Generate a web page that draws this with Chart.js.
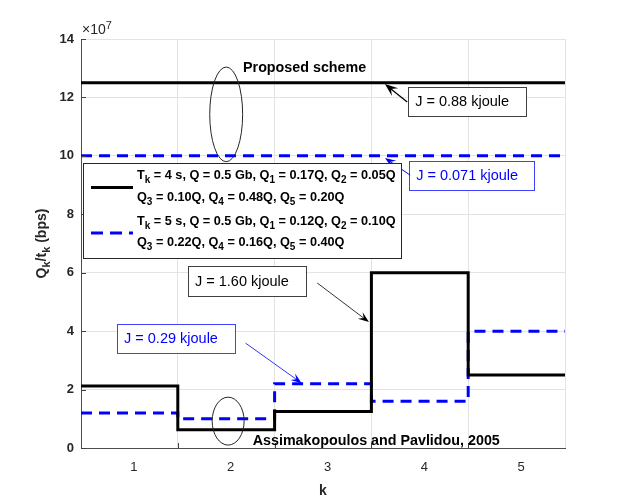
<!DOCTYPE html>
<html>
<head>
<meta charset="utf-8">
<script src="https://cdn.jsdelivr.net/npm/chart.js@4/dist/chart.umd.min.js"></script>
<style>
  html, body { margin: 0; padding: 0; background: #fff; }
  canvas { display: block; }
</style>
</head>
<body>
<canvas id="c" width="623" height="504"></canvas>
<script>
// ---------------- data (rates in units of 1e7 bps) ----------------
const K_LABELS = ['1', '2', '3', '4', '5'];
const STEP_EDGES = [0.5, 1.5, 2.5, 3.5, 4.5, 5.5];
const RATE_T4 = [2.125, 0.625, 1.25, 6.0, 2.5];   // Tk = 4 s, Assimakopoulos
const RATE_T5 = [1.2, 1.0, 2.2, 1.6, 4.0];        // Tk = 5 s, Assimakopoulos
const PROPOSED_T4 = [12.5, 12.5];                 // proposed scheme, Tk = 4 s
const PROPOSED_T5 = [10, 10];                     // proposed scheme, Tk = 5 s
const PROPOSED_EDGES = [0.5, 5.5];
const Y_MIN = 0, Y_MAX = 14, Y_STEP = 2;
const Y_EXPONENT = '×10^{7}';
const X_TITLE = 'k';
const Y_TITLE = 'Q_{k}/t_{k} (bps)';
const LEGEND_T4 = ['T_{k} = 4 s, Q = 0.5 Gb, Q_{1} = 0.17Q, Q_{2} = 0.05Q', 'Q_{3} = 0.10Q, Q_{4} = 0.48Q, Q_{5} = 0.20Q'];
const LEGEND_T5 = ['T_{k} = 5 s, Q = 0.5 Gb, Q_{1} = 0.12Q, Q_{2} = 0.10Q', 'Q_{3} = 0.22Q, Q_{4} = 0.16Q, Q_{5} = 0.40Q'];
const LABEL_PROPOSED = 'Proposed scheme';
const LABEL_REF = 'Assimakopoulos and Pavlidou, 2005';
const NOTE_TEXTS = ['J = 0.88 kjoule', 'J = 0.071 kjoule', 'J = 1.60 kjoule', 'J = 0.29 kjoule'];

const FAMILY = '"Liberation Sans", Arial, Helvetica, sans-serif';
const BLUE = '#0000ff';

function steps(vals) {
  return STEP_EDGES.map((x, i) => ({ x: x, y: vals[Math.min(i, vals.length - 1)] }));
}
function flat(vals) {
  return PROPOSED_EDGES.map((x, i) => ({ x: x, y: vals[i] }));
}

// ---------------- rich text helpers ----------------
function parseRich(s) {
  const out = []; const re = /([_^])\{([^}]*)\}|([^_^]+)/g; let m;
  while ((m = re.exec(s))) {
    if (m[3]) out.push({ t: m[3], m: 0 });
    else out.push({ t: m[2], m: m[1] === '_' ? 1 : 2 });
  }
  return out;
}
function richWidth(ctx, s, size, weight) {
  const small = Math.round(size * 0.75);
  let w = 0;
  for (const g of parseRich(s)) {
    ctx.font = `${weight} ${g.m ? small : size}px ${FAMILY}`;
    w += ctx.measureText(g.t).width;
  }
  return w;
}
function drawRich(ctx, s, x, y, size, weight, align) {
  const small = Math.round(size * 0.75);
  const w = richWidth(ctx, s, size, weight);
  let cx = align === 'center' ? x - w / 2 : x;
  ctx.textBaseline = 'middle';
  ctx.textAlign = 'left';
  for (const g of parseRich(s)) {
    ctx.font = `${weight} ${g.m ? small : size}px ${FAMILY}`;
    const dy = g.m === 1 ? size * 0.38 : g.m === 2 ? -size * 0.3 : 0;
    ctx.fillText(g.t, cx, y + dy);
    cx += ctx.measureText(g.t).width;
  }
}
function arrow(ctx, x0, y0, x1, y1, color, lw, L, W) {
  ctx.save();
  ctx.strokeStyle = color; ctx.fillStyle = color; ctx.lineWidth = lw;
  const a = Math.atan2(y1 - y0, x1 - x0);
  ctx.beginPath();
  ctx.moveTo(x0, y0);
  ctx.lineTo(x1 - Math.cos(a) * L * 0.6, y1 - Math.sin(a) * L * 0.6);
  ctx.stroke();
  ctx.translate(x1, y1); ctx.rotate(a);
  ctx.beginPath();
  ctx.moveTo(0, 0);
  ctx.lineTo(-L, -W / 2);
  ctx.lineTo(-L * 0.6, 0);
  ctx.lineTo(-L, W / 2);
  ctx.closePath();
  ctx.fill();
  ctx.restore();
}

// ---------------- annotation plugin ----------------
const annotations = {
  id: 'annotations',
  afterDatasetsDraw(chart) {
    const ctx = chart.ctx;
    const ca = chart.chartArea;
    const X = v => chart.scales.xs.getPixelForValue(v);
    const Y = v => chart.scales.y.getPixelForValue(v);
    ctx.save();

    // inward tick marks
    ctx.strokeStyle = '#404040'; ctx.lineWidth = 1;
    ctx.beginPath();
    for (let v = Y_MIN; v <= Y_MAX; v += Y_STEP) {
      const y = Math.round(Y(v)) + 0.5;
      ctx.moveTo(ca.left, y); ctx.lineTo(ca.left + 5, y);
    }
    for (let i = 1; i < STEP_EDGES.length - 1; i++) {
      const x = Math.round(X(STEP_EDGES[i])) + 0.5;
      ctx.moveTo(x, ca.bottom); ctx.lineTo(x, ca.bottom - 5);
    }
    ctx.stroke();

    // ellipses
    ctx.strokeStyle = '#262626'; ctx.lineWidth = 1;
    const ell = (cx, cy, rx, ry) => {
      const px = X(cx), py = Y(cy);
      const prx = X(cx + rx) - px, pry = py - Y(cy + ry);
      ctx.beginPath(); ctx.ellipse(px, py, prx, pry, 0, 0, Math.PI * 2); ctx.stroke();
    };
    ell(2.0, 11.42, 0.17, 1.62);
    ell(2.02, 0.92, 0.165, 0.82);

    // bold labels
    ctx.fillStyle = '#000';
    drawRich(ctx, LABEL_PROPOSED, X(2.81), Y(13.0), 14.3, 'bold', 'center');
    drawRich(ctx, LABEL_REF, X(3.55), Y(0.24), 14.3, 'bold', 'center');

    // note boxes with arrows
    const notes = [
      { t: NOTE_TEXTS[0], c: '#000', b: '#404040', x0: 3.88, y0: 12.36, x1: 5.10, y1: 11.36, tail: [3.87, 11.84], head: [3.64, 12.46], lw: 1.3, L: 13, W: 10 },
      { t: NOTE_TEXTS[1], c: BLUE, b: '#4040ff', x0: 3.89, y0: 9.82, x1: 5.18, y1: 8.83, tail: [3.90, 9.34], head: [3.64, 9.93], lw: 1.0, L: 11, W: 8 },
      { t: NOTE_TEXTS[2], c: '#000', b: '#404040', x0: 1.605, y0: 6.23, x1: 2.82, y1: 5.20, tail: [2.94, 5.65], head: [3.475, 4.31], lw: 0.8, L: 11, W: 8 },
      { t: NOTE_TEXTS[3], c: BLUE, b: '#4040ff', x0: 0.872, y0: 4.24, x1: 2.09, y1: 3.25, tail: [2.20, 3.59], head: [2.78, 2.22], lw: 0.8, L: 11, W: 8 },
    ];
    for (const n of notes) {
      const bx = X(n.x0), by = Y(n.y0), bw = X(n.x1) - bx, bh = Y(n.y1) - by;
      ctx.fillStyle = '#fff';
      ctx.fillRect(bx, by, bw, bh);
      ctx.strokeStyle = n.b; ctx.lineWidth = 1;
      ctx.strokeRect(Math.round(bx) + 0.5, Math.round(by) + 0.5, Math.round(bw), Math.round(bh));
      ctx.fillStyle = n.c;
      drawRich(ctx, n.t, bx + 7, by + bh / 2 + 0.5, 14.5, 'normal', 'left');
      arrow(ctx, X(n.tail[0]), Y(n.tail[1]), X(n.head[0]), Y(n.head[1]), n.c, n.lw, n.L, n.W);
    }

    // legend
    const lx = Math.round(X(0.52)), ly = Math.round(Y(9.76)), lw = 318, lh = 95;
    ctx.fillStyle = '#fff'; ctx.fillRect(lx, ly, lw, lh);
    ctx.strokeStyle = '#262626'; ctx.lineWidth = 1;
    ctx.strokeRect(lx + 0.5, ly + 0.5, lw, lh);
    ctx.lineWidth = 3;
    ctx.strokeStyle = '#000'; ctx.setLineDash([]);
    ctx.beginPath(); ctx.moveTo(lx + 8, ly + 24.5); ctx.lineTo(lx + 50, ly + 24.5); ctx.stroke();
    ctx.strokeStyle = BLUE; ctx.setLineDash([12, 7]);
    ctx.beginPath(); ctx.moveTo(lx + 8, ly + 70); ctx.lineTo(lx + 50, ly + 70); ctx.stroke();
    ctx.setLineDash([]);
    ctx.fillStyle = '#000';
    drawRich(ctx, LEGEND_T4[0], lx + 54, ly + 12, 12.7, 'bold', 'left');
    drawRich(ctx, LEGEND_T4[1], lx + 54, ly + 34, 12.7, 'bold', 'left');
    drawRich(ctx, LEGEND_T5[0], lx + 54, ly + 58, 12.7, 'bold', 'left');
    drawRich(ctx, LEGEND_T5[1], lx + 54, ly + 79, 12.7, 'bold', 'left');

    // exponent label
    ctx.fillStyle = '#262626';
    drawRich(ctx, Y_EXPONENT, ca.left + 1, ca.top - 9, 14, 'normal', 'left');

    // axis titles
    ctx.fillStyle = '#262626';
    drawRich(ctx, X_TITLE, (ca.left + ca.right) / 2, ca.bottom + 43, 14, 'bold', 'center');
    ctx.save();
    ctx.translate(ca.left - 39, (ca.top + ca.bottom) / 2);
    ctx.rotate(-Math.PI / 2);
    drawRich(ctx, Y_TITLE, 0, 0, 14, 'bold', 'center');
    ctx.restore();

    ctx.restore();
  }
};

// ---------------- chart ----------------
new Chart(document.getElementById('c'), {
  type: 'line',
  data: {
    datasets: [
      { data: flat(PROPOSED_T4), xAxisID: 'xs', borderColor: '#000', borderWidth: 3, pointRadius: 0, fill: false },
      { data: flat(PROPOSED_T5), xAxisID: 'xs', borderColor: BLUE, borderWidth: 3, borderDash: [11, 7], pointRadius: 0, fill: false },
      { data: steps(RATE_T4), xAxisID: 'xs', stepped: true, borderColor: '#000', borderWidth: 3, pointRadius: 0, fill: false },
      { data: steps(RATE_T5), xAxisID: 'xs', stepped: true, borderColor: BLUE, borderWidth: 3, borderDash: [11, 7], pointRadius: 0, fill: false },
    ]
  },
  options: {
    responsive: false,
    animation: false,
    events: [],
    layout: { padding: { left: 0, top: 39, right: 58, bottom: 0 } },
    plugins: { legend: { display: false }, tooltip: { enabled: false }, title: { display: false } },
    scales: {
      x: {
        type: 'category',
        labels: K_LABELS,
        offset: true,
        grid: { offset: true, color: '#e3e3e3', lineWidth: 1, drawTicks: false },
        border: { color: '#4d4d4d', width: 1 },
        ticks: { font: { family: FAMILY, size: 13 }, color: '#262626', padding: 12, maxRotation: 0, labelOffset: 4.5 },
        afterFit(s) { s.height = 56; }
      },
      xs: { type: 'linear', min: 0.5, max: 5.5, display: false },
      y: {
        min: Y_MIN, max: Y_MAX,
        ticks: { stepSize: Y_STEP, font: { family: FAMILY, size: 13, weight: 'bold' }, color: '#262626', padding: 7 },
        grid: { color: '#e3e3e3', lineWidth: 1, drawTicks: false },
        border: { color: '#4d4d4d', width: 1 },
        afterFit(s) { s.width = 81; }
      }
    }
  },
  plugins: [annotations]
});
</script>
</body>
</html>
